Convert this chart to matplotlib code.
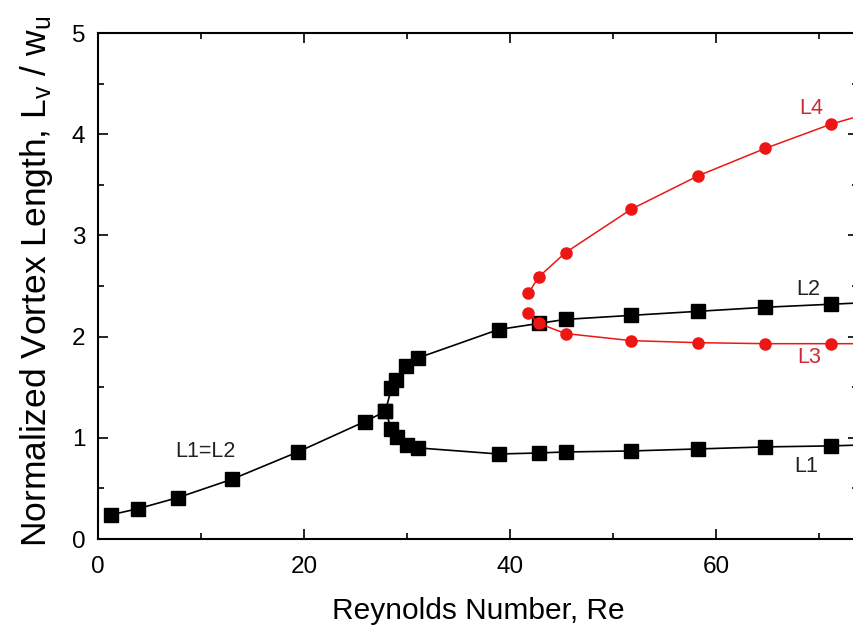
import numpy as np
import matplotlib
matplotlib.use("Agg")
import matplotlib.pyplot as plt
from matplotlib.ticker import MultipleLocator

plt.rcParams['font.family'] = ['Liberation Sans', 'DejaVu Sans']
plt.rcParams['mathtext.fontset'] = 'custom'
plt.rcParams['mathtext.rm'] = 'Liberation Sans'
plt.rcParams['mathtext.it'] = 'Liberation Sans'

# black branch, L1=L2 then L2 (upper)
re_l2 = [1.3, 3.9, 7.8, 13.0, 19.4, 25.9, 27.9, 28.5, 28.9, 29.9, 31.1,
         38.9, 42.8, 45.4, 51.8, 58.3, 64.8, 71.2, 77.7]
lv_l2 = [0.24, 0.30, 0.41, 0.59, 0.86, 1.16, 1.26, 1.49, 1.57, 1.71, 1.79,
         2.07, 2.13, 2.17, 2.21, 2.25, 2.29, 2.32, 2.35]

# lower black branch L1
re_l1 = [27.9, 28.5, 29.0, 30.0, 31.1, 38.9, 42.8, 45.4, 51.8, 58.3, 64.8, 71.2, 77.7]
lv_l1 = [1.26, 1.09, 1.01, 0.93, 0.90, 0.84, 0.85, 0.86, 0.87, 0.89, 0.91, 0.92, 0.94]

# red branches
re_l4 = [41.8, 42.8, 45.4, 51.8, 58.3, 64.8, 71.2, 77.7]
lv_l4 = [2.43, 2.59, 2.83, 3.26, 3.59, 3.86, 4.10, 4.29]
re_l3 = [41.8, 42.8, 45.4, 51.8, 58.3, 64.8, 71.2, 77.7]
lv_l3 = [2.23, 2.13, 2.03, 1.96, 1.94, 1.93, 1.93, 1.93]

labels = ['L1=L2', 'L2', 'L1', 'L4', 'L3']
label_x = [10.4, 69.0, 68.8, 69.3, 69.1]
label_y = [0.86, 2.47, 0.72, 4.25, 1.79]
label_c = ['#222222', '#222222', '#222222', '#cc2a35', '#cc2a35']

fig = plt.figure(figsize=(8.54, 6.42), dpi=100)
ax = fig.add_axes([98 / 854, 103 / 642, 760 / 854, 506 / 642])

red = '#ee1515'
ax.plot(re_l2, lv_l2, color='black', lw=1.2, marker='s', ms=10, zorder=2)
ax.plot(re_l1, lv_l1, color='black', lw=1.2, marker='s', ms=10, zorder=2)
ax.plot(re_l4, lv_l4, color=red, lw=1.1, marker='o', ms=8, zorder=3)
ax.plot(re_l3, lv_l3, color=red, lw=1.1, marker='o', ms=8, zorder=3)

for t, x, y, c in zip(labels, label_x, label_y, label_c):
    ax.text(x, y, t, color=c, fontsize=15.5, ha='center', va='center')

ax.set_xlim(0, 73.8)
ax.set_ylim(0, 5)
ax.xaxis.set_major_locator(MultipleLocator(20))
ax.xaxis.set_minor_locator(MultipleLocator(10))
ax.yaxis.set_major_locator(MultipleLocator(1))
ax.yaxis.set_minor_locator(MultipleLocator(0.5))
ax.tick_params(which='both', direction='in', top=True, right=True, width=1.2,
               labelsize=17.5)
ax.tick_params(axis='x', pad=12)
ax.tick_params(axis='y', pad=9)
ax.tick_params(which='major', length=7)
ax.tick_params(which='minor', length=4)
for s in ax.spines.values():
    s.set_linewidth(1.5)

ax.set_xlabel('Reynolds Number, Re', fontsize=21.5)
ax.set_ylabel('Normalized Vortex Length, L$_\\mathregular{v}$ / w$_\\mathregular{u}$',
              fontsize=25.5)
ax.xaxis.set_label_coords(0.5, -0.115)
ax.yaxis.set_label_coords(-0.057, 0.51)

fig.savefig('out.png', dpi=100)
